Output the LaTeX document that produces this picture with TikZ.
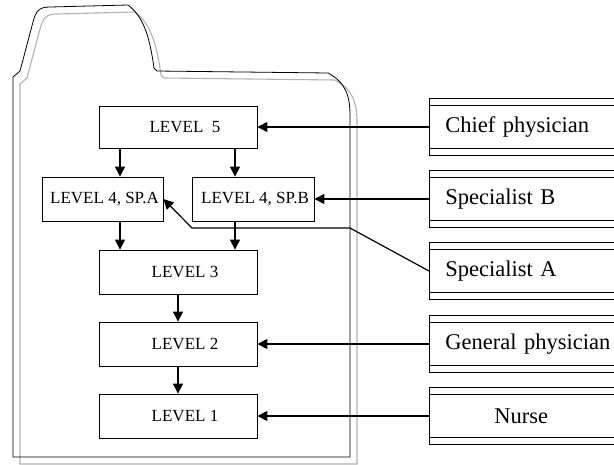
\documentclass[tikz,border=0pt]{standalone}
\usepackage{fontspec}
\setmainfont{Liberation Serif}
\usetikzlibrary{arrows.meta}
\begin{document}
\begin{tikzpicture}[x=1pt,y=-1pt,
  lvl/.style={draw, line width=0.8pt, inner sep=0pt, font=\fontsize{17}{20}\selectfont},
  rbox/.style={draw, line width=0.7pt, minimum height=57pt, text width=180pt, inner xsep=16pt, inner ysep=0pt,
    align=left, anchor=west, font=\fontsize{22.5}{26}\selectfont,
    path picture={\draw[line width=0.9pt] ([yshift=-7pt]path picture bounding box.north west) -- ([yshift=-7pt]path picture bounding box.north east);
      \draw[line width=0.9pt] ([yshift=7pt]path picture bounding box.south west) -- ([yshift=7pt]path picture bounding box.south east);}},
  arr/.style={line width=1.2pt, -{Triangle[length=10pt,width=10pt]}}]
\useasboundingbox (0,0) rectangle (614,464);
% folder outline: shadow then outline
\draw[gray!60, line width=1.1pt, shift={(7,7)}]
  (13,457) -- (13,77) -- (20,71) -- (33,22) .. controls (36,10) and (40,7) .. (50,7) -- (128,5)
  .. controls (145,18) and (150,40) .. (154,68) -- (157,71) -- (328,73)
  .. controls (345,82) and (350,95) .. (350,115) -- (350,457) -- cycle;
\draw[line width=0.8pt]
  (13,457) -- (13,77) -- (20,71) -- (33,22) .. controls (36,10) and (40,7) .. (50,7) -- (128,5)
  .. controls (145,18) and (150,40) .. (154,68) -- (157,71) -- (328,73)
  .. controls (345,82) and (350,95) .. (350,115) -- (350,457) -- cycle;
% level boxes
\node[lvl, minimum width=158pt, minimum height=42pt] (l5) at (178,127) {\hspace*{14pt}LEVEL~~5};
\node[lvl, minimum width=121pt, minimum height=44pt] (l4a) at (102.5,199) {\hspace*{4pt}LEVEL 4, SP.A};
\node[lvl, minimum width=122pt, minimum height=44pt] (l4b) at (253,199) {\hspace*{4pt}LEVEL 4, SP.B};
\node[lvl, minimum width=158pt, minimum height=44pt] (l3) at (178,272) {\hspace*{14pt}LEVEL 3};
\node[lvl, minimum width=158pt, minimum height=44pt] (l2) at (178,344) {\hspace*{14pt}LEVEL 2};
\node[lvl, minimum width=158pt, minimum height=44pt] (l1) at (178,416) {\hspace*{14pt}LEVEL 1};
% right boxes
\node[rbox] (chief) at (429,127) {Chief physician};
\node[rbox] (spb) at (429,199) {Specialist B};
\node[rbox] (spa) at (429,271) {Specialist A};
\node[rbox] (gp) at (429,344) {General physician};
\node[rbox] (nurse) at (429,416) {\hspace*{49pt}Nurse};
% vertical arrows
\draw[arr] (l5.south -| 120,0) -- (l4a.north -| 120,0);
\draw[arr] (l5.south -| 235,0) -- (l4b.north -| 235,0);
\draw[arr] (l4a.south -| 120,0) -- (l3.north -| 120,0);
\draw[arr] (l4b.south -| 235,0) -- (l3.north -| 235,0);
\draw[arr] (l3.south) -- (l2.north);
\draw[arr] (l2.south) -- (l1.north);
% horizontal arrows
\draw[arr] (chief.west) -- (l5.east);
\draw[arr] (spb.west) -- (l4b.east);
\draw[arr] (gp.west) -- (l2.east);
\draw[arr] (nurse.west) -- (l1.east);
\coordinate (k1) at (350,228);
\coordinate (k2) at (192,228);
\draw[arr] (spa.west) -- (k1) -- (k2) -- (l4a.east);
\end{tikzpicture}
\end{document}
